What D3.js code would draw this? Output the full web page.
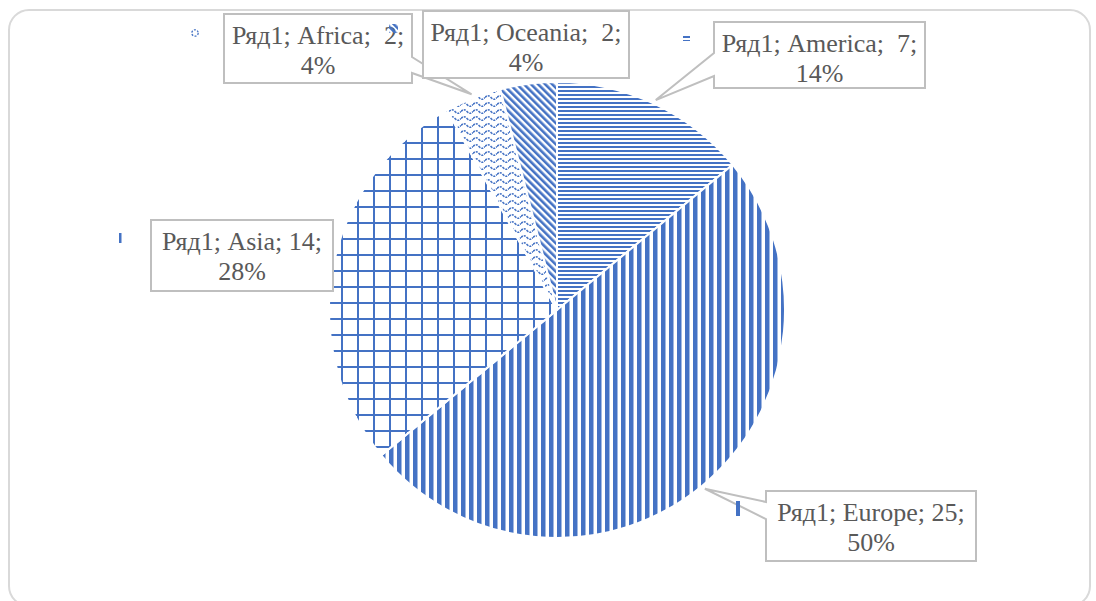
<!DOCTYPE html>
<html><head><meta charset="utf-8">
<script src="https://cdn.jsdelivr.net/npm/d3@7"></script>
<style>html,body{margin:0;padding:0;background:#fff;}svg{display:block;}</style>
</head><body>
<script>
// ---- data ----
const seriesName = "Ряд1";
const categories = ["America", "Europe", "Asia", "Africa", "Oceania"];
const values = [7, 25, 14, 2, 2];
const patterns = ["pat-h", "pat-v", "pat-grid", "pat-wave", "pat-diag"];

// ---- layout (not data) ----
const W = 1096, H = 601;
const cx = 557, cy = 310, R = 228;
const BLUE = "#4472C4";
const boxes = {
  America: {x: 714, y: 22, w: 211, h: 66, ptr: [[714, 53], [714, 76]], key: [683, 35, 7, 6]},
  Europe:  {x: 766, y: 491, w: 210, h: 70, ptr: [[766, 502], [766, 519]], key: [736, 501, 4, 15]},
  Asia:    {x: 151, y: 220, w: 182, h: 71, ptr: null, key: [119, 233, 2.5, 10]},
  Africa:  {x: 224, y: 14, w: 188, h: 69, ptr: [[412, 57], [412, 73]], key: null},
  Oceania: {x: 423, y: 11, w: 206, h: 67, ptr: null, key: [389, 24, 9, 9]}
};

const svg = d3.select("body").append("svg").attr("width", W).attr("height", H);
const defs = svg.append("defs");

let p = defs.append("pattern").attr("id", "pat-h").attr("patternUnits", "userSpaceOnUse")
  .attr("width", 4).attr("height", 4);
p.append("rect").attr("width", 4).attr("height", 2).attr("fill", BLUE);

p = defs.append("pattern").attr("id", "pat-v").attr("patternUnits", "userSpaceOnUse")
  .attr("width", 8).attr("height", 8);
p.append("rect").attr("width", 4.5).attr("height", 8).attr("fill", BLUE);

p = defs.append("pattern").attr("id", "pat-grid").attr("patternUnits", "userSpaceOnUse")
  .attr("x", 344).attr("y", 264).attr("width", 16).attr("height", 16);
p.append("rect").attr("width", 2).attr("height", 16).attr("fill", BLUE);
p.append("rect").attr("width", 16).attr("height", 2).attr("fill", BLUE);

p = defs.append("pattern").attr("id", "pat-wave").attr("patternUnits", "userSpaceOnUse")
  .attr("width", 12).attr("height", 7);
p.append("path").attr("d", "M0,4.5 Q3,1 6,4.5 T12,4.5").attr("fill", "none")
  .attr("stroke", BLUE).attr("stroke-width", 1.6).attr("stroke-dasharray", "2.2,1");

p = defs.append("pattern").attr("id", "pat-diag").attr("patternUnits", "userSpaceOnUse")
  .attr("width", 5).attr("height", 5).attr("patternTransform", "rotate(-45)");
p.append("rect").attr("width", 2.6).attr("height", 5).attr("fill", BLUE);

// frame
svg.append("rect").attr("x", 9).attr("y", 10).attr("width", 1081).attr("height", 596)
  .attr("rx", 20).attr("fill", "#fff").attr("stroke", "#d9d9d9").attr("stroke-width", 2);

// pie
const data = categories.map((c, i) => ({cat: c, value: values[i], pat: patterns[i]}));
const total = d3.sum(values);
const pie = d3.pie().value(d => d.value).sort(null);
const arcs = pie(data);
const arc = d3.arc().innerRadius(0).outerRadius(R);
const g = svg.append("g").attr("transform", `translate(${cx},${cy})`);
g.selectAll("path").data(arcs).join("path")
  .attr("d", arc)
  .attr("fill", d => `url(#${d.data.pat})`)
  .attr("stroke", "#fff").attr("stroke-width", 2);

// callouts
const lab = svg.append("g").attr("font-family", "'Liberation Serif','Times New Roman',serif")
  .attr("font-size", 26).attr("fill", "#595959");

arcs.forEach(a => {
  const b = boxes[a.data.cat];
  const mid = (a.startAngle + a.endAngle) / 2;
  const tip = [cx + (R + 4) * Math.sin(mid), cy - (R + 4) * Math.cos(mid)];
  let d;
  const x0 = b.x, y0 = b.y, x1 = b.x + b.w, y1 = b.y + b.h;
  if (b.ptr) {
    const [p1, p2] = b.ptr;
    if (p1[0] === x0) {
      d = `M${x0},${y0}L${x1},${y0}L${x1},${y1}L${x0},${y1}L${x0},${p2[1]}L${tip[0]},${tip[1]}L${x0},${p1[1]}Z`;
    } else {
      d = `M${x0},${y0}L${x1},${y0}L${x1},${p1[1]}L${tip[0]},${tip[1]}L${x1},${p2[1]}L${x1},${y1}L${x0},${y1}Z`;
    }
  } else {
    d = `M${x0},${y0}L${x1},${y0}L${x1},${y1}L${x0},${y1}Z`;
  }
  lab.append("path").attr("d", d).attr("fill", "#fff").attr("stroke", "#bfbfbf").attr("stroke-width", 2);
  const pct = Math.round(a.data.value / total * 100) + "%";
  const num = String(a.data.value).padStart(2, " ");
  const t = lab.append("text").attr("text-anchor", "middle").style("white-space", "pre");
  t.append("tspan").attr("x", b.x + b.w / 2).attr("y", b.y + 30)
    .text(`${seriesName}; ${a.data.cat}; ${num};`);
  t.append("tspan").attr("x", b.x + b.w / 2).attr("y", b.y + 60).text(pct);
});

// legend keys
const keys = svg.append("g");
arcs.forEach(a => {
  const b = boxes[a.data.cat];
  if (!b.key) return;
  const [kx, ky, kw, kh] = b.key;
  const fill = (a.data.pat === "pat-grid" || a.data.pat === "pat-v") ? BLUE : `url(#${a.data.pat})`;
  keys.append("rect").attr("x", kx).attr("y", ky).attr("width", kw).attr("height", kh).attr("fill", fill);
});
keys.append("circle").attr("cx", 195).attr("cy", 33).attr("r", 3.2).attr("fill", "none")
  .attr("stroke", BLUE).attr("stroke-width", 1.3).attr("stroke-dasharray", "2,1.4");
</script>
</body></html>
